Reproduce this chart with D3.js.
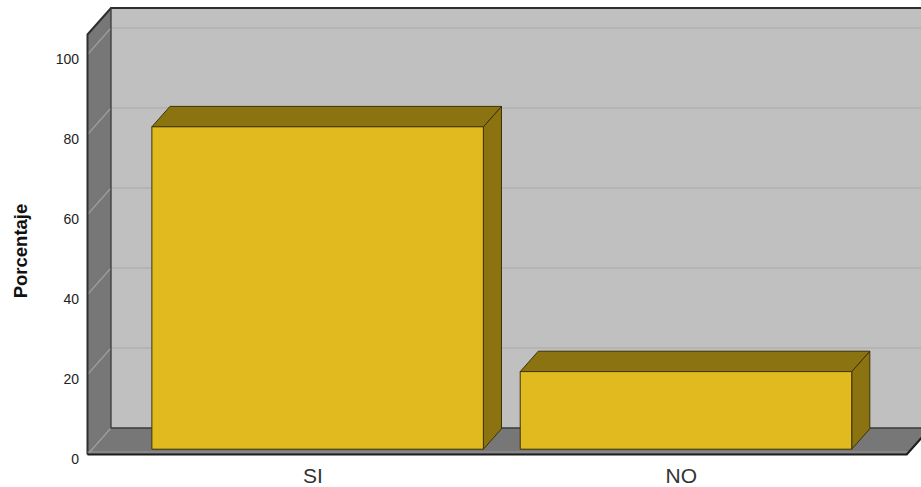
<!DOCTYPE html>
<html>
<head>
<meta charset="utf-8">
<script src="https://cdn.jsdelivr.net/npm/d3@7"></script>
<style>
  html, body { margin: 0; padding: 0; background: #ffffff; }
  svg { display: block; }
  text { font-family: "Liberation Sans", Arial, sans-serif; }
</style>
</head>
<body>
<svg id="chart" width="921" height="487"></svg>
<script>
// Respuestas (porcentaje)
const categories = ["SI", "NO"];
const porcentajes = [80.6, 19.4];
const yTicks = [0, 20, 40, 60, 80, 100];
const yLabel = "Porcentaje";

const W = 921, H = 487;
const svg = d3.select("#chart");

// Front plane of the 3D box; depth offset of the back plane
const x0 = 87.5, x1 = 906.7;
const DX = 23.5, DY = 26.5;
const zFront = 0.2, zBack = 0.97;

const y = d3.scaleLinear().domain([0, 105]).range([454.5, 34.5]);
const x = d3.scaleBand().domain(categories).range([x0, x1])
  .paddingInner(0.1).paddingOuter(0.162);

// project (px on front plane, value, depth) to screen
const P = (px, v, z) => [px + z * DX, y(v) - z * DY];
const poly = pts => "M" + pts.map(p => p.join(",")).join("L") + "Z";
const line = pts => "M" + pts.map(p => p.join(",")).join("L");

const g = svg.append("g");
const vMax = y.domain()[1];

// back wall
g.append("path")
  .attr("d", poly([P(x0, 0, 1), P(x0, vMax, 1), [W + 40, y(vMax) - DY], [W + 40, y(0) - DY]]))
  .attr("fill", "#c0c0c0");

// left wall
g.append("path")
  .attr("d", poly([P(x0, 0, 0), P(x0, vMax, 0), P(x0, vMax, 1), P(x0, 0, 1)]))
  .attr("fill", "#777777");

// floor
g.append("path")
  .attr("d", poly([P(x0, 0, 0), P(x0, 0, 1), P(x1, 0, 1), P(x1, 0, 0)]))
  .attr("fill", "#777777");

// gridlines on back wall and left wall
yTicks.forEach(t => {
  if (t > 0) {
    g.append("path")
      .attr("d", line([P(x0, t, 1), [W + 40, y(t) - DY]]))
      .attr("stroke", "#b0b0b0").attr("stroke-width", 1.5).attr("fill", "none");
  }
  g.append("path")
    .attr("d", line([P(x0, t, 0), P(x0, t, 1)]))
    .attr("stroke", "#9e9e9e").attr("stroke-width", 1.2).attr("fill", "none");
});

// box outlines
const dark = "#2e2e2e";
g.append("path")
  .attr("d", line([P(x0, 0, 0), P(x0, vMax, 0), P(x0, vMax, 1), [W + 40, y(vMax) - DY]]))
  .attr("stroke", dark).attr("stroke-width", 2).attr("fill", "none");
g.append("path")
  .attr("d", line([P(x0, vMax, 1), P(x0, 0, 1), [W + 40, y(0) - DY]]))
  .attr("stroke", "#3a3a3a").attr("stroke-width", 1.3).attr("fill", "none");
// floor front edge with slab thickness
g.append("path")
  .attr("d", line([[x0, y(0) - 2.5], [x1 + 2, y(0) - 2.5]]))
  .attr("stroke", "#9a9a9a").attr("stroke-width", 1).attr("fill", "none");
g.append("path")
  .attr("d", line([P(x0, 0, 0), P(x1, 0, 0), P(x1, 0, 1)]))
  .attr("stroke", "#1e1e1e").attr("stroke-width", 2.2).attr("fill", "none");

// bars
const front = "#e0ba1f", shade = "#8b7312", edge = "#3d3205";
const bars = g.selectAll("g.bar").data(categories).join("g").attr("class", "bar");
bars.each(function(c, i) {
  const v = porcentajes[i];
  const a = x(c), b = x(c) + x.bandwidth();
  const sel = d3.select(this);
  // right side
  sel.append("path")
    .attr("d", poly([P(b, 0, zFront), P(b, v, zFront), P(b, v, zBack), P(b, 0, zBack)]))
    .attr("fill", shade).attr("stroke", edge).attr("stroke-width", 1).attr("stroke-linejoin", "round");
  // top
  sel.append("path")
    .attr("d", poly([P(a, v, zFront), P(a, v, zBack), P(b, v, zBack), P(b, v, zFront)]))
    .attr("fill", shade).attr("stroke", edge).attr("stroke-width", 1).attr("stroke-linejoin", "round");
  // front face
  sel.append("path")
    .attr("d", poly([P(a, 0, zFront), P(a, v, zFront), P(b, v, zFront), P(b, 0, zFront)]))
    .attr("fill", front).attr("stroke", edge).attr("stroke-width", 1).attr("stroke-linejoin", "round");
});

// y tick labels
g.selectAll("text.ytick").data(yTicks).join("text")
  .attr("class", "ytick")
  .attr("x", 79).attr("y", d => y(d) + 9)
  .attr("text-anchor", "end")
  .attr("font-size", 14)
  .attr("fill", "#222")
  .text(d => d);

// category labels
g.selectAll("text.xcat").data(categories).join("text")
  .attr("class", "xcat")
  .attr("x", d => x(d) + x.bandwidth() / 2)
  .attr("y", 482.5)
  .attr("text-anchor", "middle")
  .attr("font-size", 21)
  .attr("fill", "#333")
  .text(d => d);

// y axis title
g.append("text")
  .attr("transform", "translate(26.5,251) rotate(-90)")
  .attr("text-anchor", "middle")
  .attr("font-size", 18.5)
  .attr("font-weight", "bold")
  .attr("fill", "#111")
  .text(yLabel);
</script>
</body>
</html>
